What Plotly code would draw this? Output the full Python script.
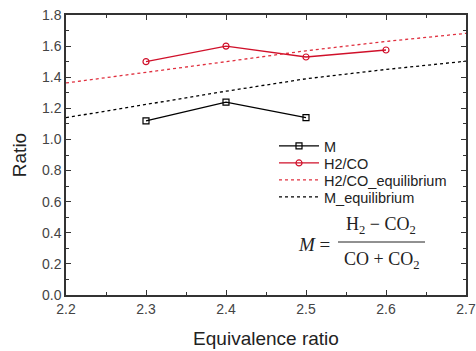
import plotly.graph_objects as go

x_m = [2.3, 2.4, 2.5]
m_vals = [1.12, 1.24, 1.14]
x_h = [2.3, 2.4, 2.5, 2.6]
h_vals = [1.50, 1.60, 1.53, 1.575]
x_eq = [2.2, 2.3, 2.4, 2.5, 2.6, 2.7]
h_eq = [1.363, 1.43, 1.50, 1.57, 1.63, 1.682]
m_eq = [1.14, 1.225, 1.31, 1.39, 1.45, 1.503]

L, R, T, B = 66, 10, 15, 56
W, H = 476, 351
pw, ph = W - L - R, H - T - B

def px(xp):
    return (xp - L) / pw

def py(yp):
    return (H - B - yp) / ph

fig = go.Figure()
fig.add_trace(go.Scatter(x=x_m, y=m_vals, name="M", mode="lines+markers", legend="legend",
                         line=dict(color="black", width=1.3),
                         marker=dict(symbol="square-open", size=6, color="black", line=dict(width=1.2))))
fig.add_trace(go.Scatter(x=x_h, y=h_vals, name="H2/CO", mode="lines+markers", legend="legend2",
                         line=dict(color="#d0102a", width=1.3),
                         marker=dict(symbol="circle-open", size=6, color="#d0102a", line=dict(width=1.2))))
fig.add_trace(go.Scatter(x=x_eq, y=h_eq, name="H2/CO_equilibrium", mode="lines", legend="legend3",
                         line=dict(color="#e0303f", width=1.3, dash="dot")))
fig.add_trace(go.Scatter(x=x_eq, y=m_eq, name="M_equilibrium", mode="lines", legend="legend4",
                         line=dict(color="black", width=1.3, dash="dot")))

axis_common = dict(showline=True, linecolor="#333", linewidth=1.5, mirror="allticks",
                   ticks="inside", ticklen=5, tickwidth=1, tickcolor="#333",
                   showgrid=False, zeroline=False, automargin=False,
                   tickfont=dict(family="Liberation Sans, Arial", size=14, color="#444"))

fig.update_xaxes(range=[2.2, 2.7], dtick=0.1, tick0=2.2, tickformat=".1f",
                 minor=dict(dtick=0.05, ticks="inside", ticklen=3, tickcolor="#333"),
                 title=dict(text="Equivalence ratio", font=dict(family="Liberation Sans, Arial", size=19, color="#222"), standoff=16),
                 **axis_common)
fig.update_yaxes(range=[0, 1.8], dtick=0.2, tick0=0, tickformat=".1f",
                 minor=dict(dtick=0.1, ticks="inside", ticklen=3, tickcolor="#333"),
                 title=dict(text="Ratio", font=dict(family="Liberation Sans, Arial", size=19, color="#222"), standoff=10),
                 **axis_common)

sf = "Liberation Serif, DejaVu Serif, serif"
fig.add_annotation(x=px(314), y=py(244), xref="paper", yref="paper", showarrow=False,
                   xanchor="center", yanchor="middle",
                   text="<i>M</i> =", font=dict(family=sf, size=19, color="#222"))
fig.add_annotation(x=px(381), y=py(225), xref="paper", yref="paper", showarrow=False,
                   xanchor="center", yanchor="middle",
                   text="H<sub>2</sub> − CO<sub>2</sub>", font=dict(family=sf, size=18, color="#222"))
fig.add_annotation(x=px(381), y=py(260), xref="paper", yref="paper", showarrow=False,
                   xanchor="center", yanchor="middle",
                   text="CO + CO<sub>2</sub>", font=dict(family=sf, size=18, color="#222"))
fig.add_shape(type="line", xref="paper", yref="paper", x0=px(338), x1=px(425), y0=py(242), y1=py(242),
              line=dict(color="#222", width=1))

leg = dict(xanchor="left", yanchor="middle", bgcolor="rgba(0,0,0,0)",
           font=dict(family="Liberation Sans, Arial", size=14.5, color="#222"),
           itemwidth=40)
rows = [146, 163, 180, 197]
fig.update_layout(width=W, height=H, margin=dict(l=L, r=R, t=T, b=B),
                  paper_bgcolor="white", plot_bgcolor="white",
                  font=dict(family="Liberation Sans, Arial"),
                  legend=dict(x=px(274), y=py(rows[0]), **leg),
                  legend2=dict(x=px(274), y=py(rows[1]), **leg),
                  legend3=dict(x=px(274), y=py(rows[2]), **leg),
                  legend4=dict(x=px(274), y=py(rows[3]), **leg),
                  showlegend=True)

fig.write_html("out.html", config={"displayModeBar": False},
               post_script="document.body.style.margin='0';")
